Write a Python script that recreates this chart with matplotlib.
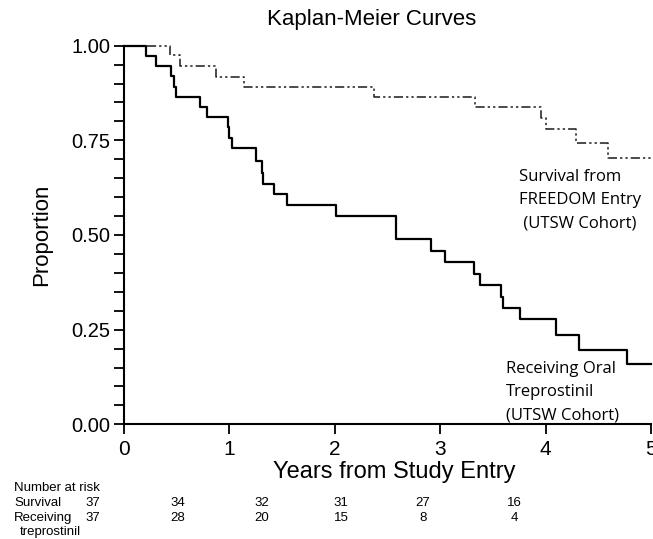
import numpy as np
import matplotlib
matplotlib.use('Agg')
import matplotlib.pyplot as plt
from matplotlib import font_manager

# step curves (time in years, proportion after the drop)
freedom_t = [0.0, 0.44, 0.53, 0.87, 1.14, 2.375, 3.33, 3.96, 4.00, 4.29, 4.595, 5.0]
freedom_s = [1.0, 0.975, 0.947, 0.918, 0.892, 0.865, 0.839, 0.808, 0.779, 0.744, 0.703, 0.703]

oral_t = [0.0, 0.21, 0.30, 0.45, 0.475, 0.49, 0.72, 0.785, 0.99, 1.0, 1.02,
          1.25, 1.305, 1.32, 1.42, 1.55, 2.01, 2.58, 2.91, 3.045, 3.32, 3.38,
          3.58, 3.60, 3.755, 4.095, 4.32, 4.775, 5.0]
oral_s = [1.0, 0.973, 0.946, 0.919, 0.892, 0.865, 0.838, 0.811, 0.784, 0.757, 0.73,
          0.695, 0.664, 0.635, 0.608, 0.579, 0.551, 0.489, 0.458, 0.429, 0.397, 0.367,
          0.337, 0.306, 0.277, 0.236, 0.196, 0.159, 0.159]

risk_rows = ['Survival', 'Receiving', 'treprostinil']
risk_survival = [37, 34, 32, 31, 27, 16]
risk_oral = [37, 28, 20, 15, 8, 4]

plt.rcParams['font.family'] = ['Liberation Sans', 'DejaVu Sans']

# narrow font for the risk table if there is one
tfont = 'Liberation Sans'
tsize = 9.5
for cand in ['Liberation Sans Narrow', 'DejaVu Sans Condensed']:
    try:
        font_manager.findfont(cand, fallback_to_default=False)
        tfont = cand
        tsize = 10.5
        break
    except Exception:
        pass

W, H = 653, 539
fig = plt.figure(figsize=(W / 100, H / 100), dpi=100)
ax = fig.add_axes([124 / W, 1 - 424.3 / H, 527 / W, 378.6 / H])

ax.step(freedom_t, freedom_s, where='post', color='#1a1a1a', lw=1.1,
        linestyle=(0, (6, 2, 1.5, 2, 1.5, 2)), clip_on=False)
ax.step(oral_t, oral_s, where='post', color='black', lw=1.6, clip_on=False)

ax.set_xlim(0, 5)
ax.set_ylim(0, 1)
for s in ['top', 'right']:
    ax.spines[s].set_visible(False)
for s in ['left', 'bottom']:
    ax.spines[s].set_linewidth(1.5)
ax.set_xticks(range(6))
ax.set_yticks([0, 0.25, 0.5, 0.75, 1.0])
ax.set_yticklabels(['0.00', '0.25', '0.50', '0.75', '1.00'])
ax.set_yticks(np.arange(0, 1.0001, 0.05), minor=True)
ax.tick_params(axis='both', which='both', direction='out', length=7, width=1.3,
               labelsize=14.5)
ax.tick_params(axis='x', pad=4, labelsize=15)
ax.tick_params(axis='y', pad=3)

fig.text(394 / W, 1 - 472 / H, 'Years from Study Entry', fontsize=17,
         ha='center', va='center')
ax.set_ylabel('Proportion', fontsize=16, labelpad=14)
fig.text(372 / W, 1 - 20 / H, 'Kaplan-Meier Curves', fontsize=16,
         ha='center', va='center')

lab_font = ['Open Sans', 'DejaVu Sans']
fig.text(519 / W, 1 - 200 / H, 'Survival from\nFREEDOM Entry\n (UTSW Cohort)',
         fontsize=12, family=lab_font, ha='left', va='center', linespacing=1.6)
fig.text(506 / W, 1 - 392 / H, 'Receiving Oral\nTreprostinil\n(UTSW Cohort)',
         fontsize=12, family=lab_font, ha='left', va='center', linespacing=1.62)

# number at risk table
fig.text(14 / W, 1 - 488 / H, 'Number at risk', fontsize=tsize, family=tfont,
         va='center')
fig.text(14 / W, 1 - 503 / H, risk_rows[0], fontsize=tsize, family=tfont, va='center')
fig.text(14 / W, 1 - 518 / H, risk_rows[1], fontsize=tsize, family=tfont, va='center')
fig.text(20 / W, 1 - 532 / H, risk_rows[2], fontsize=tsize, family=tfont, va='center')
cols = [93, 178, 262, 341, 423, 514]
for i, x in enumerate(cols):
    fig.text(x / W, 1 - 503 / H, str(risk_survival[i]), fontsize=tsize, family=tfont,
             ha='center', va='center')
    fig.text(x / W, 1 - 518 / H, str(risk_oral[i]), fontsize=tsize, family=tfont,
             ha='center', va='center')

fig.savefig('out.png', dpi=100)
